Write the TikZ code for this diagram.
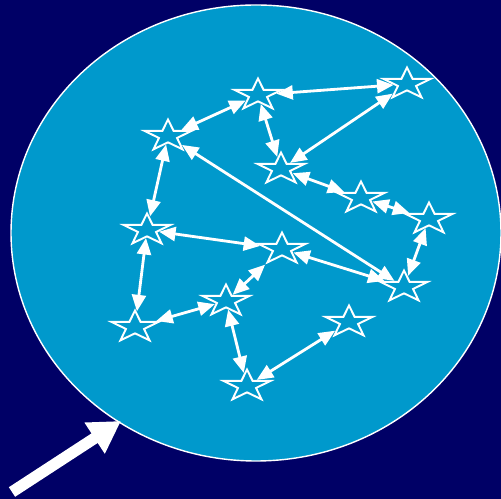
\documentclass[tikz,border=0pt]{standalone}
\usetikzlibrary{shapes.geometric,arrows.meta}
\definecolor{night}{RGB}{0,0,102}
\definecolor{sky}{RGB}{0,153,204}
\tikzset{
  starnode/.style={star,star points=5,star point ratio=2.6,draw=white,line width=1.1pt,minimum size=6.6mm,inner sep=0pt,xscale=1.5},
  link/.style={white,line width=1.6pt,{Triangle[length=3.3mm,width=2.8mm]}-{Triangle[length=3.3mm,width=2.8mm]}}
}
\begin{document}
\begin{tikzpicture}[x=0.02cm,y=-0.02cm]
    \useasboundingbox (0,0) rectangle (501,499);
    \clip (0,0) rectangle (501,499);
    \fill[night] (0,0) rectangle (501,499);
    \draw[white,line width=0.8pt,fill=sky] (256,233) ellipse [x radius=245,y radius=228];
    \node[starnode] (a) at (168,136) {};
    \node[starnode] (b) at (258,95) {};
    \node[starnode] (c) at (407,84) {};
    \node[starnode] (d) at (281,169) {};
    \node[starnode] (e) at (361,198) {};
    \node[starnode] (f) at (429,219) {};
    \node[starnode] (g) at (147,230) {};
    \node[starnode] (h) at (282,249) {};
    \node[starnode] (i) at (226,301) {};
    \node[starnode] (j) at (135,327) {};
    \node[starnode] (k) at (404,287) {};
    \node[starnode] (l) at (349,322) {};
    \node[starnode] (m) at (247,386) {};
    \draw[link] (b)--(c);
    \draw[link] (a)--(b);
    \draw[link] (b)--(d);
    \draw[link] (d)--(c);
    \draw[link] (d)--(e);
    \draw[link] (e)--(f);
    \draw[link] (f)--(k);
    \draw[link] (a)--(k);
    \draw[link] (a)--(g);
    \draw[link] (g)--(h);
    \draw[link] (h)--(k);
    \draw[link] (h)--(i);
    \draw[link] (g)--(j);
    \draw[link] (j)--(i);
    \draw[link] (i)--(m);
    \draw[link] (m)--(l);
    \coordinate (tail) at (12,492);
    \coordinate (tip) at (121,421);
    \draw[white,line width=6.5pt,-{Triangle[length=6.3mm,width=7mm]}] (tail)--(tip);
\end{tikzpicture}
\end{document}
